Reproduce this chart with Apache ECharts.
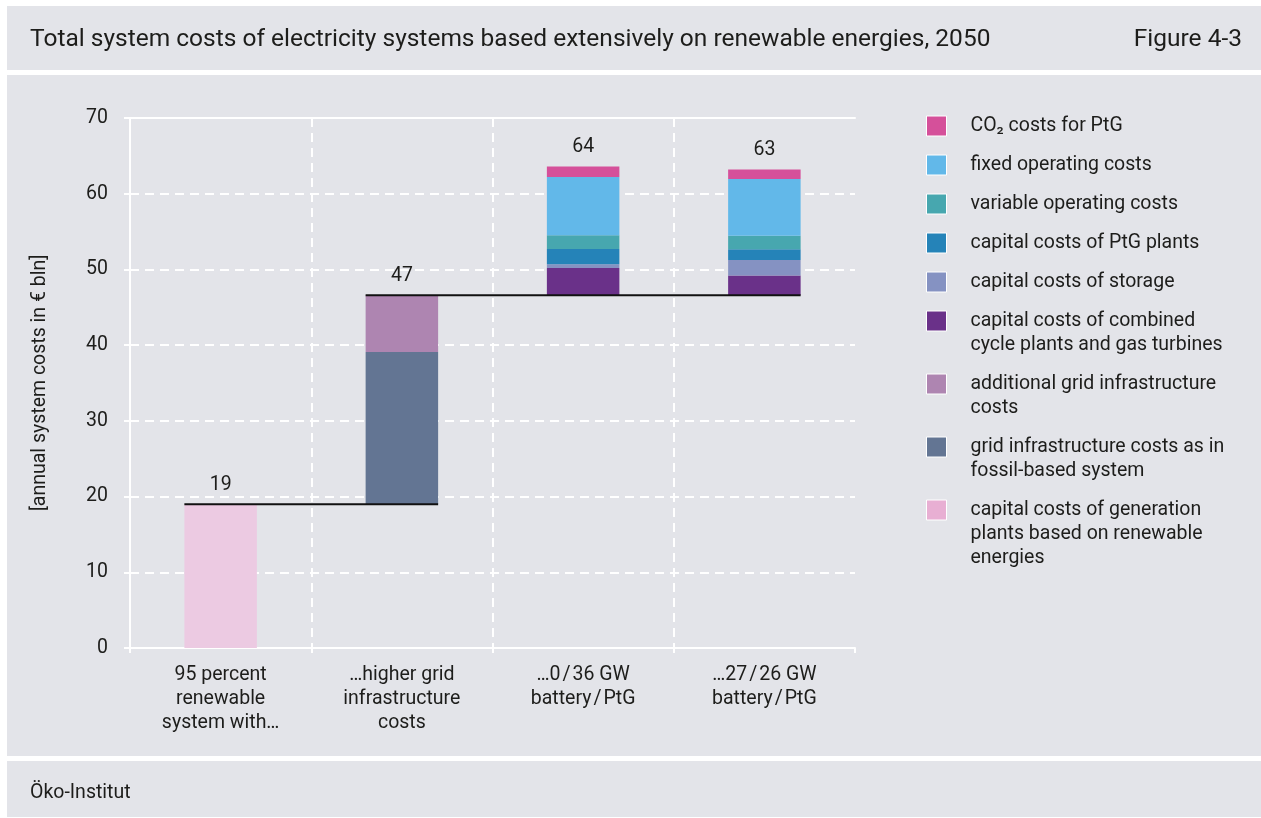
<!DOCTYPE html>
<html>
<head>
<meta charset="utf-8">
<title>Total system costs of electricity systems, 2050</title>
<script src="https://cdn.jsdelivr.net/npm/echarts@6/dist/echarts.min.js"></script>
<style>
  html, body { margin: 0; padding: 0; background: #ffffff; }
  #chart { width: 1261px; height: 818px; }
</style>
</head>
<body>
<div id="chart"></div>
<script>
// ---- data (€ bln per year) ----
const categories = [
  '95 percent\nrenewable\nsystem with…',
  '…higher grid\ninfrastructure\ncosts',
  '…0\u200A/\u200A36 GW\nbattery\u200A/\u200APtG',
  '…27\u200A/\u200A26 GW\nbattery\u200A/\u200APtG'
];

// where each scenario bar starts (end of the previous step)
const offsets = [0, 19, 46.6, 46.6];

const renewableGeneration = [19, 0, 0, 0];
const gridFossil          = [0, 20.1, 0, 0];
const gridAdditional      = [0, 7.5, 0, 0];
const combinedCycle       = [0, 0, 3.6, 2.6];
const storageCapital      = [0, 0, 0.5, 2.05];
const ptgCapital          = [0, 0, 2.0, 1.4];
const variableOpex        = [0, 0, 1.8, 1.8];
const fixedOpex           = [0, 0, 7.7, 7.5];
const co2PtG              = [0, 0, 1.4, 1.25];

// step connectors: [from category, to category], drawn at the total of "from"
const connectorSpans = [[0, 1], [1, 3]];

const yMin = 0, yMax = 70, yStep = 10;

// ---- styling ----
const FONT = 'Roboto, "Noto Sans", sans-serif';
const INK = '#1d1d1b';
const PANEL = '#e3e4e9';
const BAR_RATIO = 0.4;
const FS = 19.5;

// stack order: bottom to top
const components = [
  { name: 'capital costs of generation plants based on renewable energies', data: renewableGeneration, color: '#eccae2', swatch: '#e8afd3',
    lines: ['capital costs of generation', 'plants based on renewable', 'energies'] },
  { name: 'grid infrastructure costs as in fossil-based system', data: gridFossil, color: '#637593',
    lines: ['grid infrastructure costs as in', 'fossil-based system'] },
  { name: 'additional grid infrastructure costs', data: gridAdditional, color: '#ae85b1',
    lines: ['additional grid infrastructure', 'costs'] },
  { name: 'capital costs of combined cycle plants and gas turbines', data: combinedCycle, color: '#6a3189',
    lines: ['capital costs of combined', 'cycle plants and gas turbines'] },
  { name: 'capital costs of storage', data: storageCapital, color: '#8592c2',
    lines: ['capital costs of storage'] },
  { name: 'capital costs of PtG plants', data: ptgCapital, color: '#2583b8',
    lines: ['capital costs of PtG plants'] },
  { name: 'variable operating costs', data: variableOpex, color: '#47a7af',
    lines: ['variable operating costs'] },
  { name: 'fixed operating costs', data: fixedOpex, color: '#62b8e9',
    lines: ['fixed operating costs'] },
  { name: 'CO\u2082 costs for PtG', data: co2PtG, color: '#d5509a',
    lines: ['CO\u2082 costs for PtG'] }
];

const totals = categories.map((_, i) =>
  components.reduce((acc, c) => acc + c.data[i], offsets[i]));

const connectors = connectorSpans.map(([a, b]) => [a, b, totals[a]]);

// ---- series ----
const series = [];
series.push({
  name: 'offset',
  type: 'bar',
  stack: 'cost',
  barWidth: (BAR_RATIO * 100) + '%',
  data: offsets,
  itemStyle: { color: 'rgba(0,0,0,0)' },
  silent: true,
  emphasis: { disabled: true }
});
components.forEach(c => {
  series.push({
    name: c.name,
    type: 'bar',
    stack: 'cost',
    barWidth: (BAR_RATIO * 100) + '%',
    data: c.data,
    itemStyle: { color: c.color },
    emphasis: { disabled: true }
  });
});
series.push({
  name: 'total',
  type: 'scatter',
  data: totals,
  symbolSize: 0,
  itemStyle: { color: INK },
  silent: true,
  z: 6,
  label: {
    show: true,
    position: 'top',
    distance: 9,
    formatter: p => String(Math.round(p.value)),
    fontFamily: FONT,
    fontSize: FS,
    color: INK,
    opacity: 1
  }
});
series.push({
  name: 'steps',
  type: 'custom',
  data: connectors,
  encode: { x: [0, 1], y: 2 },
  silent: true,
  z: 5,
  clip: false,
  renderItem: (params, api) => {
    const a = api.coord([api.value(0), api.value(2)]);
    const b = api.coord([api.value(1), api.value(2)]);
    const half = api.size([1, 0])[0] * BAR_RATIO / 2;
    return {
      type: 'line',
      shape: { x1: a[0] - half, y1: a[1], x2: b[0] + half, y2: b[1] },
      style: { stroke: '#111111', lineWidth: 2 }
    };
  }
});

// ---- legend: one block per entry, swatch aligned with the first text line ----
const legendOrder = components.slice().reverse();
const legends = [];
let centre = 126;
legendOrder.forEach(c => {
  const n = c.lines.length;
  const label = '\n'.repeat(n - 1) + c.lines.join('\n');
  legends.push({
    left: 926,
    top: centre - 12 * (2 * n - 1),
    padding: 0,
    orient: 'vertical',
    icon: 'rect',
    itemWidth: 20,
    itemHeight: 20,
    selectedMode: false,
    data: [{ name: c.name, itemStyle: { color: c.swatch || c.color, borderColor: '#ffffff', borderWidth: 1 } }],
    formatter: () => label,
    textStyle: { fontFamily: FONT, fontSize: FS, lineHeight: 24, color: INK, padding: [0, 0, 0, 19] }
  });
  centre += 15 + 24 * n;
});

const chart = echarts.init(document.getElementById('chart'));
chart.setOption({
  animation: false,
  backgroundColor: '#ffffff',
  textStyle: { fontFamily: FONT },
  graphic: {
    elements: [
      { type: 'rect', z: -10, silent: true, shape: { x: 7, y: 6, width: 1254, height: 64 }, style: { fill: PANEL } },
      { type: 'rect', z: -10, silent: true, shape: { x: 7, y: 75, width: 1254, height: 681 }, style: { fill: PANEL } },
      { type: 'rect', z: -10, silent: true, shape: { x: 7, y: 761, width: 1254, height: 56 }, style: { fill: PANEL } }
    ]
  },
  title: [
    { text: 'Total system costs of electricity systems based extensively on renewable energies, 2050',
      left: 30, top: 26, padding: 0,
      textStyle: { fontFamily: FONT, fontSize: 24.5, lineHeight: 28, fontWeight: 'normal', color: INK } },
    { text: 'Figure 4-3', right: 19, top: 26, padding: 0,
      textStyle: { fontFamily: FONT, fontSize: 24.5, lineHeight: 28, fontWeight: 'normal', color: INK } },
    { text: 'Öko-Institut', left: 30, top: 781, padding: 0,
      textStyle: { fontFamily: FONT, fontSize: FS, lineHeight: 24, fontWeight: 'normal', color: INK } }
  ],
  legend: legends,
  grid: { left: 130, right: 406, top: 118, bottom: 170, containLabel: false, outerBoundsMode: 'none' },
  xAxis: [
    {
      type: 'category',
      data: categories,
      axisLine: { show: true, lineStyle: { color: '#ffffff', width: 2 } },
      axisTick: { show: true, length: 5, lineStyle: { color: '#ffffff', width: 2 } },
      splitLine: { show: true, showMaxLine: false, lineStyle: { color: '#ffffff', width: 2, type: [9, 6] } },
      axisLabel: { interval: 0, margin: 15, fontFamily: FONT, fontSize: FS, lineHeight: 24, color: INK }
    },
    {
      type: 'category',
      position: 'top',
      data: categories,
      axisLine: { show: true, lineStyle: { color: '#ffffff', width: 2 } },
      axisTick: { show: false },
      axisLabel: { show: false },
      splitLine: { show: false }
    }
  ],
  yAxis: {
    type: 'value',
    min: yMin,
    max: yMax,
    interval: yStep,
    name: '[annual system costs in € bln]',
    nameLocation: 'middle',
    nameRotate: 90,
    nameGap: 80,
    nameTextStyle: { fontFamily: FONT, fontSize: FS, color: INK },
    axisLine: { show: true, lineStyle: { color: '#ffffff', width: 2 } },
    axisTick: { show: true, length: 6, lineStyle: { color: '#ffffff', width: 2 } },
    splitLine: { show: true, showMaxLine: false, lineStyle: { color: '#ffffff', width: 2, type: [9, 6] } },
    axisLabel: { margin: 22, fontFamily: FONT, fontSize: FS, color: INK }
  },
  series: series
});
</script>
</body>
</html>
